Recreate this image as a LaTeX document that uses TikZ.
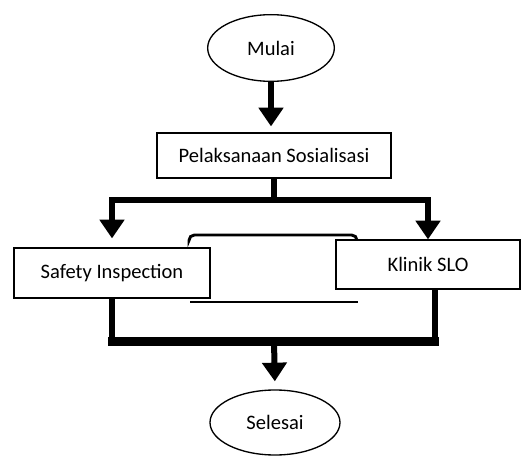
\documentclass[tikz,border=0pt]{standalone}
\usepackage{fontspec}
\setmainfont{Carlito}
\usetikzlibrary{arrows.meta}
\usetikzlibrary{shapes.geometric}
\tikzset{>={Triangle[width=18pt,length=14pt]}}
\tikzset{kotak/.style={draw,line width=0.9pt,rectangle,inner sep=0pt,fill=white,font=\fontsize{15.4}{18}\selectfont}}
\tikzset{oval/.style={draw,line width=1pt,ellipse,inner sep=0pt,fill=white,font=\fontsize{15.4}{18}\selectfont}}
\tikzset{tebal/.style={line width=4.5pt}}

\begin{document}
\begin{tikzpicture}[x=0.75pt,y=-0.75pt]
\useasboundingbox (0,0) rectangle (521,456);

% kurung di belakang kotak
\draw[line width=2.2pt,rounded corners=4pt] (189,240) -- (189,235) -- (357,235) -- (357,241);
\draw[line width=2pt] (190,302) -- (358,302);

\node[oval,minimum width=95pt,minimum height=50pt] (mulai) at (271,48) {Mulai};
\node[kotak,minimum width=175.5pt,minimum height=33.75pt] (sosialisasi) at (274,155.5) {Pelaksanaan Sosialisasi};
\node[kotak,minimum width=147pt,minimum height=37.5pt] (safety) at (112,273) {Safety Inspection};
\node[kotak,minimum width=138pt,minimum height=36.75pt] (klinik) at (428,264.5) {Klinik SLO};
\node[oval,minimum width=97.5pt,minimum height=48.75pt] (selesai) at (275,422.5) {Selesai};

\coordinate (cabang) at (274,200);
\coordinate (gabung) at (274,341);

\draw[tebal,->,shorten >=4.5pt] (mulai.south) -- (mulai.south |- sosialisasi.north);
\draw[tebal] (sosialisasi.south) -- (cabang);
\draw[tebal,<->,shorten <=6.75pt] (safety.north) |- (cabang) -| (klinik.north);

\draw[tebal] (safety.south) |- (gabung) -| ([xshift=5pt]klinik.south);
\draw[line width=6.75pt,line cap=rect] (safety.south |- gabung) -- ([xshift=5pt]klinik.south |- gabung);
\draw[tebal,->,shorten >=6pt] (gabung) -- (selesai.north);
\end{tikzpicture}
\end{document}
